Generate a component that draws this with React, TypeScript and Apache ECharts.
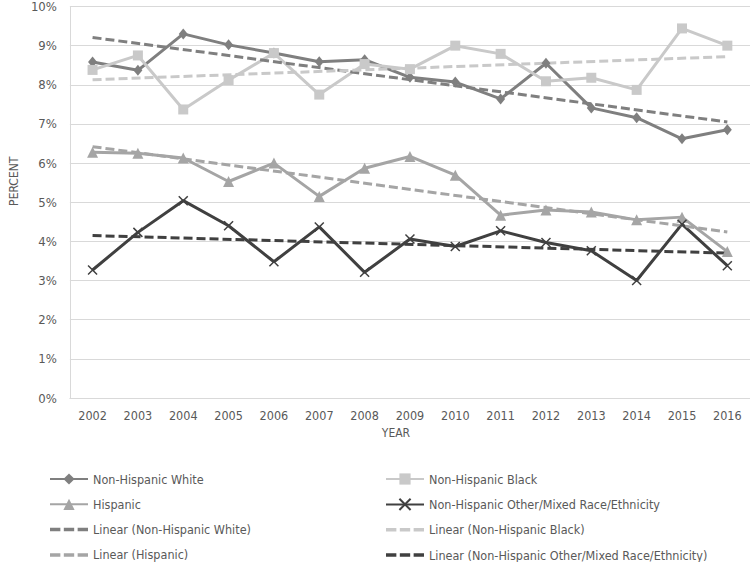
import React, { useEffect, useRef } from "react";
import * as echarts from "echarts";

const years = ["2002","2003","2004","2005","2006","2007","2008","2009","2010","2011","2012","2013","2014","2015","2016"];
const nhWhite = [8.58, 8.37, 9.30, 9.02, 8.81, 8.59, 8.64, 8.19, 8.07, 7.64, 8.55, 7.41, 7.16, 6.62, 6.85];
const nhBlack = [8.38, 8.75, 7.37, 8.12, 8.81, 7.75, 8.53, 8.40, 9.00, 8.79, 8.09, 8.18, 7.87, 9.44, 9.00];
const hispanic = [6.28, 6.25, 6.13, 5.53, 6.00, 5.15, 5.87, 6.17, 5.69, 4.67, 4.80, 4.75, 4.55, 4.62, 3.74];
const nhOther = [3.27, 4.23, 5.04, 4.40, 3.48, 4.37, 3.21, 4.06, 3.87, 4.27, 3.97, 3.76, 3.00, 4.44, 3.38];
// trend line endpoints (2002, 2016)
const trendWhite = [9.21, 7.05];
const trendBlack = [8.13, 8.72];
const trendHispanic = [6.42, 4.24];
const trendOther = [4.15, 3.70];

const FONT = "'Liberation Sans Narrow', 'DejaVu Sans Condensed', 'Open Sans', sans-serif";
const TXT = "#595959";
const DASH_ICON = "path://M0,0h9v3h-9zM12,0h9v3h-9zM24,0h9v3h-9z";

function endpoints(e: number[]) {
  return years.map((_, i) => (i === 0 ? e[0] : i === years.length - 1 ? e[1] : null));
}

export default function App() {
  const ref = useRef<HTMLDivElement>(null);
  useEffect(() => {
    const chart = echarts.init(ref.current!, undefined, { renderer: "svg" });
    const solid = (name: string, data: number[], color: string, symbol: string, size: any, extra: any = {}) => ({
      name, type: "line", data, symbol, symbolSize: size,
      lineStyle: { color, width: 3 },
      itemStyle: { color },
      ...extra,
    });
    const trend = (name: string, e: number[], color: string) => ({
      name, type: "line", data: endpoints(e), connectNulls: true, symbol: "none",
      lineStyle: { color, width: 3, type: [9, 4] },
      itemStyle: { color },
    });
    const legendBase = {
      orient: "vertical",
      itemWidth: 38,
      itemHeight: 14,
      itemGap: 12.3,
      height: 130,
      padding: 0,
      symbolKeepAspect: true,
      textStyle: { color: TXT, fontSize: 12.5, fontFamily: FONT },
    };
    chart.setOption({
      animation: false,
      grid: { left: 55, right: 0, top: 5, bottom: 164, containLabel: false },
      xAxis: {
        type: "category", data: years, boundaryGap: true,
        name: "YEAR", nameLocation: "middle", nameGap: 28,
        nameTextStyle: { color: TXT, fontSize: 12, fontFamily: FONT, padding: [0, 28, 0, 0] },
        axisLine: { lineStyle: { color: "#d9d9d9", width: 1 } },
        axisTick: { show: false },
        axisLabel: { color: TXT, fontSize: 12.5, fontFamily: FONT, margin: 11 },
      },
      yAxis: {
        type: "value", min: 0, max: 10, interval: 1,
        name: "PERCENT", nameLocation: "middle", nameGap: 42, nameRotate: 90,
        nameTextStyle: { color: TXT, fontSize: 12, fontFamily: FONT, padding: [0, 0, 0, 42] },
        axisLine: { show: true, lineStyle: { color: "#d9d9d9", width: 1 } },
        axisTick: { show: false },
        axisLabel: { color: TXT, fontSize: 13, fontFamily: FONT, margin: 13, formatter: "{value}%" },
        splitLine: { lineStyle: { color: "#d9d9d9", width: 1 } },
      },
      legend: [
        { ...legendBase, left: 49, top: 472.5,
          data: [
            { name: "Non-Hispanic White" },
            { name: "Hispanic" },
            { name: "Linear (Non-Hispanic White)", icon: DASH_ICON },
            { name: "Linear (Hispanic)", icon: DASH_ICON },
          ] },
        { ...legendBase, left: 385, top: 472.5,
          data: [
            { name: "Non-Hispanic Black" },
            { name: "Non-Hispanic Other/Mixed Race/Ethnicity" },
            { name: "Linear (Non-Hispanic Black)", icon: DASH_ICON },
            { name: "Linear (Non-Hispanic Other/Mixed Race/Ethnicity)", icon: DASH_ICON },
          ] },
      ],
      series: [
        solid("Non-Hispanic White", nhWhite, "#7f7f7f", "diamond", [9, 11]),
        solid("Non-Hispanic Black", nhBlack, "#c9c9c9", "rect", 10),
        solid("Hispanic", hispanic, "#a5a5a5", "triangle", 11),
        solid("Non-Hispanic Other/Mixed Race/Ethnicity", nhOther, "#404040", "path://M0,0L10,10M10,0L0,10", 9, {
          itemStyle: { color: "#404040", borderColor: "#404040", borderWidth: 1.5 },
        }),
        trend("Linear (Non-Hispanic White)", trendWhite, "#7f7f7f"),
        trend("Linear (Non-Hispanic Black)", trendBlack, "#c9c9c9"),
        trend("Linear (Hispanic)", trendHispanic, "#a5a5a5"),
        trend("Linear (Non-Hispanic Other/Mixed Race/Ethnicity)", trendOther, "#404040"),
      ],
    });
    return () => chart.dispose();
  }, []);
  return <div ref={ref} style={{ position: "fixed", left: 0, top: 0, width: 750, height: 562, background: "#fff" }} />;
}
